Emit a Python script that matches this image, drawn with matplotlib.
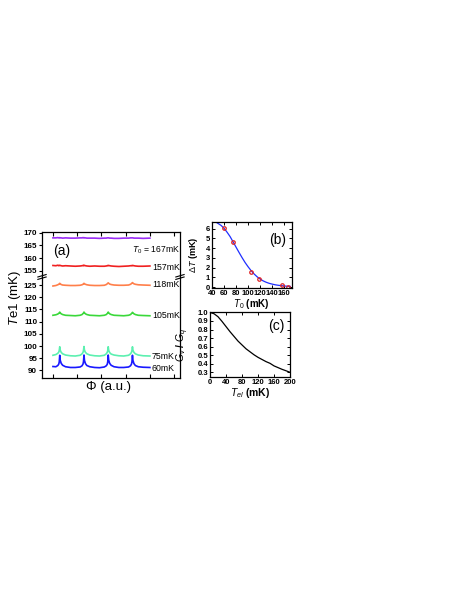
import matplotlib
matplotlib.use('Agg')
import matplotlib.pyplot as plt

plt.rcParams['font.family'] = ['Liberation Sans', 'DejaVu Sans']
plt.rcParams['mathtext.fontset'] = 'custom'
plt.rcParams['mathtext.rm'] = 'Liberation Sans'
plt.rcParams['mathtext.it'] = 'Liberation Sans:italic'
plt.rcParams['mathtext.bf'] = 'Liberation Sans:bold'

# ---- panel (a): Te1 vs flux, one trace per bath temperature ----
phi = [0.00, 0.03, 0.05, 0.06, 0.065, 0.07, 0.075, 0.085, 0.10, 0.13, 0.18, 0.23,
       0.28, 0.30, 0.31, 0.315, 0.32, 0.325, 0.335, 0.35, 0.38, 0.43, 0.48,
       0.53, 0.55, 0.56, 0.565, 0.57, 0.575, 0.585, 0.60, 0.63, 0.68, 0.73,
       0.78, 0.80, 0.81, 0.815, 0.82, 0.825, 0.835, 0.85, 0.88, 0.93, 1.00]

te_60 = [91.6, 91.5, 92.0, 92.6, 93.5, 96.2, 94.2, 92.9, 92.1, 91.5, 91.2, 91.2,
         91.4, 91.9, 92.6, 93.6, 96.3, 94.1, 92.8, 92.0, 91.5, 91.2, 91.1,
         91.4, 91.9, 92.5, 93.5, 96.3, 94.2, 92.9, 92.1, 91.5, 91.2, 91.2,
         91.4, 91.9, 92.6, 93.6, 96.2, 94.1, 92.8, 92.0, 91.5, 91.3, 91.2]
te_75 = [96.2, 96.5, 97.0, 97.5, 98.2, 99.7, 98.3, 97.4, 96.8, 96.3, 96.0, 95.9,
         96.2, 96.8, 97.4, 98.2, 99.8, 98.3, 97.4, 96.8, 96.3, 96.0, 95.9,
         96.2, 96.8, 97.4, 98.1, 99.7, 98.2, 97.3, 96.7, 96.3, 96.0, 95.9,
         96.2, 96.8, 97.4, 98.2, 99.7, 98.3, 97.4, 96.8, 96.3, 96.0, 95.9]
te_105 = [112.6, 112.8, 113.1, 113.4, 113.6, 113.9, 113.6, 113.2, 112.9, 112.6, 112.5, 112.4,
          112.6, 112.9, 113.3, 113.5, 113.9, 113.6, 113.2, 112.9, 112.6, 112.5, 112.4,
          112.6, 112.9, 113.3, 113.5, 113.9, 113.6, 113.2, 112.9, 112.6, 112.5, 112.4,
          112.6, 112.9, 113.3, 113.5, 113.8, 113.6, 113.2, 112.9, 112.6, 112.5, 112.4]
te_118 = [124.6, 124.8, 125.1, 125.3, 125.5, 125.7, 125.5, 125.2, 125.0, 124.9, 124.8, 124.8,
          124.9, 125.1, 125.3, 125.5, 125.7, 125.5, 125.3, 125.1, 124.9, 124.8, 124.8,
          124.9, 125.2, 125.5, 125.7, 125.9, 125.7, 125.4, 125.2, 125.0, 124.9, 124.9,
          125.0, 125.3, 125.6, 125.8, 126.0, 125.8, 125.5, 125.3, 125.1, 125.0, 124.9]
te_157 = [157.1, 157.0, 157.2, 157.0, 157.1, 157.2, 157.1, 157.0, 156.9, 157.0, 156.9, 156.8,
          156.9, 157.0, 157.1, 157.0, 157.2, 157.1, 157.0, 156.9, 156.8, 156.9, 156.8,
          156.8, 156.9, 157.0, 157.1, 157.0, 157.1, 157.0, 156.9, 156.8, 156.7, 156.8,
          156.9, 157.0, 157.0, 157.1, 157.0, 157.1, 157.0, 156.9, 156.8, 156.8, 156.9]
te_167 = [167.9, 167.9, 168.0, 167.9, 167.9, 168.0, 167.9, 167.9, 167.8, 167.9, 167.8, 167.8,
          167.9, 167.9, 168.0, 167.9, 168.0, 167.9, 167.9, 167.8, 167.8, 167.8, 167.7,
          167.8, 167.8, 167.9, 167.9, 167.9, 167.9, 167.8, 167.8, 167.7, 167.7, 167.8,
          167.8, 167.9, 167.9, 167.9, 167.9, 167.9, 167.8, 167.8, 167.8, 167.7, 167.8]

# ---- panel (b): amplitude of oscillation vs T0 ----
t0_pts = [60, 75, 105, 118, 157, 167]
dT_pts = [6.05, 4.6, 1.56, 0.85, 0.17, 0.04]
t0_fit = [45, 50, 55, 60, 65, 70, 75, 80, 85, 90, 95, 100, 105, 110, 115, 120,
          125, 130, 135, 140, 145, 150, 155, 160, 165, 170]
dT_fit = [6.75, 6.55, 6.35, 6.05, 5.65, 5.2, 4.65, 4.1, 3.55, 3.02, 2.52, 2.08, 1.68,
          1.34, 1.05, 0.82, 0.63, 0.49, 0.38, 0.30, 0.23, 0.18, 0.14, 0.11, 0.08, 0.06]

# ---- panel (c): Gv/Gq vs Tel ----
tel = [0, 10, 20, 30, 40, 50, 60, 70, 80, 90, 100, 110, 120, 130, 140, 150,
       160, 170, 180, 190, 200]
gv = [1.0, 0.985, 0.95, 0.895, 0.835, 0.775, 0.72, 0.665, 0.62, 0.575, 0.54,
      0.505, 0.475, 0.45, 0.425, 0.405, 0.375, 0.355, 0.335, 0.318, 0.30]

fig = plt.figure(figsize=(4.63, 5.99), dpi=100)

ax_top = fig.add_axes([0.0907, 0.5376, 0.298, 0.0751])
ax_bot = fig.add_axes([0.0907, 0.369, 0.298, 0.1686])

traces_top = [(te_167, '#9a2cf5'), (te_157, '#f02020')]
traces_bot = [(te_118, '#ff7f4a'), (te_105, '#3ad83a'), (te_75, '#5cf0b0'), (te_60, '#1818ff')]
for y, c in traces_top:
    ax_top.plot(phi, y, color=c, lw=1.2)
for y, c in traces_bot:
    ax_bot.plot(phi, y, color=c, lw=1.2)

xt = [0, 0.25, 0.5, 0.75, 1.0, 1.25]
for ax in (ax_top, ax_bot):
    ax.set_xlim(-0.113, 1.31)
    ax.set_xticks(xt)
    ax.tick_params(axis='x', direction='in', top=True, labelbottom=False, length=3, width=0.8)
    ax.tick_params(axis='y', direction='out', length=2.5, width=0.8, labelsize=5.8, pad=1)
    for s in ax.spines.values():
        s.set_linewidth(0.9)

ax_top.set_ylim(152.6, 170.2)
ax_top.set_yticks([155, 160, 165, 170])
ax_top.spines['bottom'].set_visible(False)
ax_top.tick_params(axis='x', bottom=False)
ax_bot.set_ylim(86.9, 128.3)
ax_bot.set_yticks([90, 95, 100, 105, 110, 115, 120, 125])
ax_bot.spines['top'].set_visible(False)
ax_bot.tick_params(axis='x', top=False)
for ax in (ax_top, ax_bot):
    for lab in ax.get_yticklabels():
        lab.set_fontweight('bold')

# break marks on both spines
for xb in (0, 1):
    for dy in (-0.012, 0.012):
        ax_bot.plot([xb - 0.03, xb + 0.03], [1 + dy - 0.012, 1 + dy + 0.012],
                    transform=ax_bot.transAxes, color='k', lw=0.8, clip_on=False)

lab_kw = dict(fontsize=6.3, va='center', ha='left')
ax_top.text(0.998, 0.6, '$T_0$ = 167mK', fontsize=6.2, va='center', ha='right',
            transform=ax_top.transAxes)
ax_top.text(1.02, 156.2, '157mK', **lab_kw)
ax_top.text(0.0, 162.8, '(a)', fontsize=10, va='center', ha='left')
ax_bot.text(1.02, 125.4, '118mK', **lab_kw)
ax_bot.text(1.02, 112.4, '105mK', **lab_kw)
ax_bot.text(1.02, 95.8, '75mK', **lab_kw)
ax_bot.text(1.02, 90.7, '60mK', **lab_kw)

fig.text(0.033, 0.503, '$T$e1 (mK)', rotation=90, fontsize=9.5, ha='center', va='center')
fig.text(0.235, 0.354, '\u03a6 (a.u.)', fontsize=9.5, ha='center', va='center')

# panel (b)
ax_b = fig.add_axes([0.4579, 0.5192, 0.1717, 0.1102])
ax_b.plot(t0_fit, dT_fit, color='#1f2fff', lw=0.9)
ax_b.plot(t0_pts, dT_pts, 'o', ms=2.5, mfc='none', mec='#e02020', mew=0.9)
ax_b.set_xlim(40, 172)
ax_b.set_ylim(-0.1, 6.7)
ax_b.set_xticks([40, 60, 80, 100, 120, 140, 160])
ax_b.set_yticks([0, 1, 2, 3, 4, 5, 6])
ax_b.text(0.93, 0.73, '(b)', transform=ax_b.transAxes, fontsize=10, ha='right', va='center')
ax_b.set_ylabel(r'$\Delta\mathbf{\mathit{T}}$ (mK)', fontsize=6.5, fontweight='bold')
ax_b.yaxis.set_label_coords(-0.15, 0.5)
ax_b.set_xlabel(r'$\mathbf{\mathit{T}}_0$ (mK)', fontsize=7, fontweight='bold', labelpad=0)

# panel (c)
ax_c = fig.add_axes([0.4536, 0.3706, 0.1728, 0.1085])
ax_c.plot(tel, gv, color='k', lw=0.9)
ax_c.set_xlim(0, 200)
ax_c.set_ylim(0.245, 1.005)
ax_c.set_xticks([0, 40, 80, 120, 160, 200])
ax_c.set_yticks([0.3, 0.4, 0.5, 0.6, 0.7, 0.8, 0.9, 1.0])
ax_c.text(0.93, 0.78, '(c)', transform=ax_c.transAxes, fontsize=10, ha='right', va='center')
ax_c.set_ylabel(r'$G_v$ / $G_q$', fontsize=7.5, fontweight='bold')
ax_c.yaxis.set_label_coords(-0.24, 0.5)
ax_c.set_xlabel(r'$T_{el}$ (mK)', fontsize=7.5, fontweight='bold', labelpad=0)

for ax in (ax_b, ax_c):
    ax.tick_params(direction='in', top=True, right=True, length=2, width=0.7,
                   labelsize=5.5, pad=1.5)
    for lab in ax.get_xticklabels() + ax.get_yticklabels():
        lab.set_fontweight('bold')
    for s in ax.spines.values():
        s.set_linewidth(0.9)

fig.savefig('out.png', dpi=100)
